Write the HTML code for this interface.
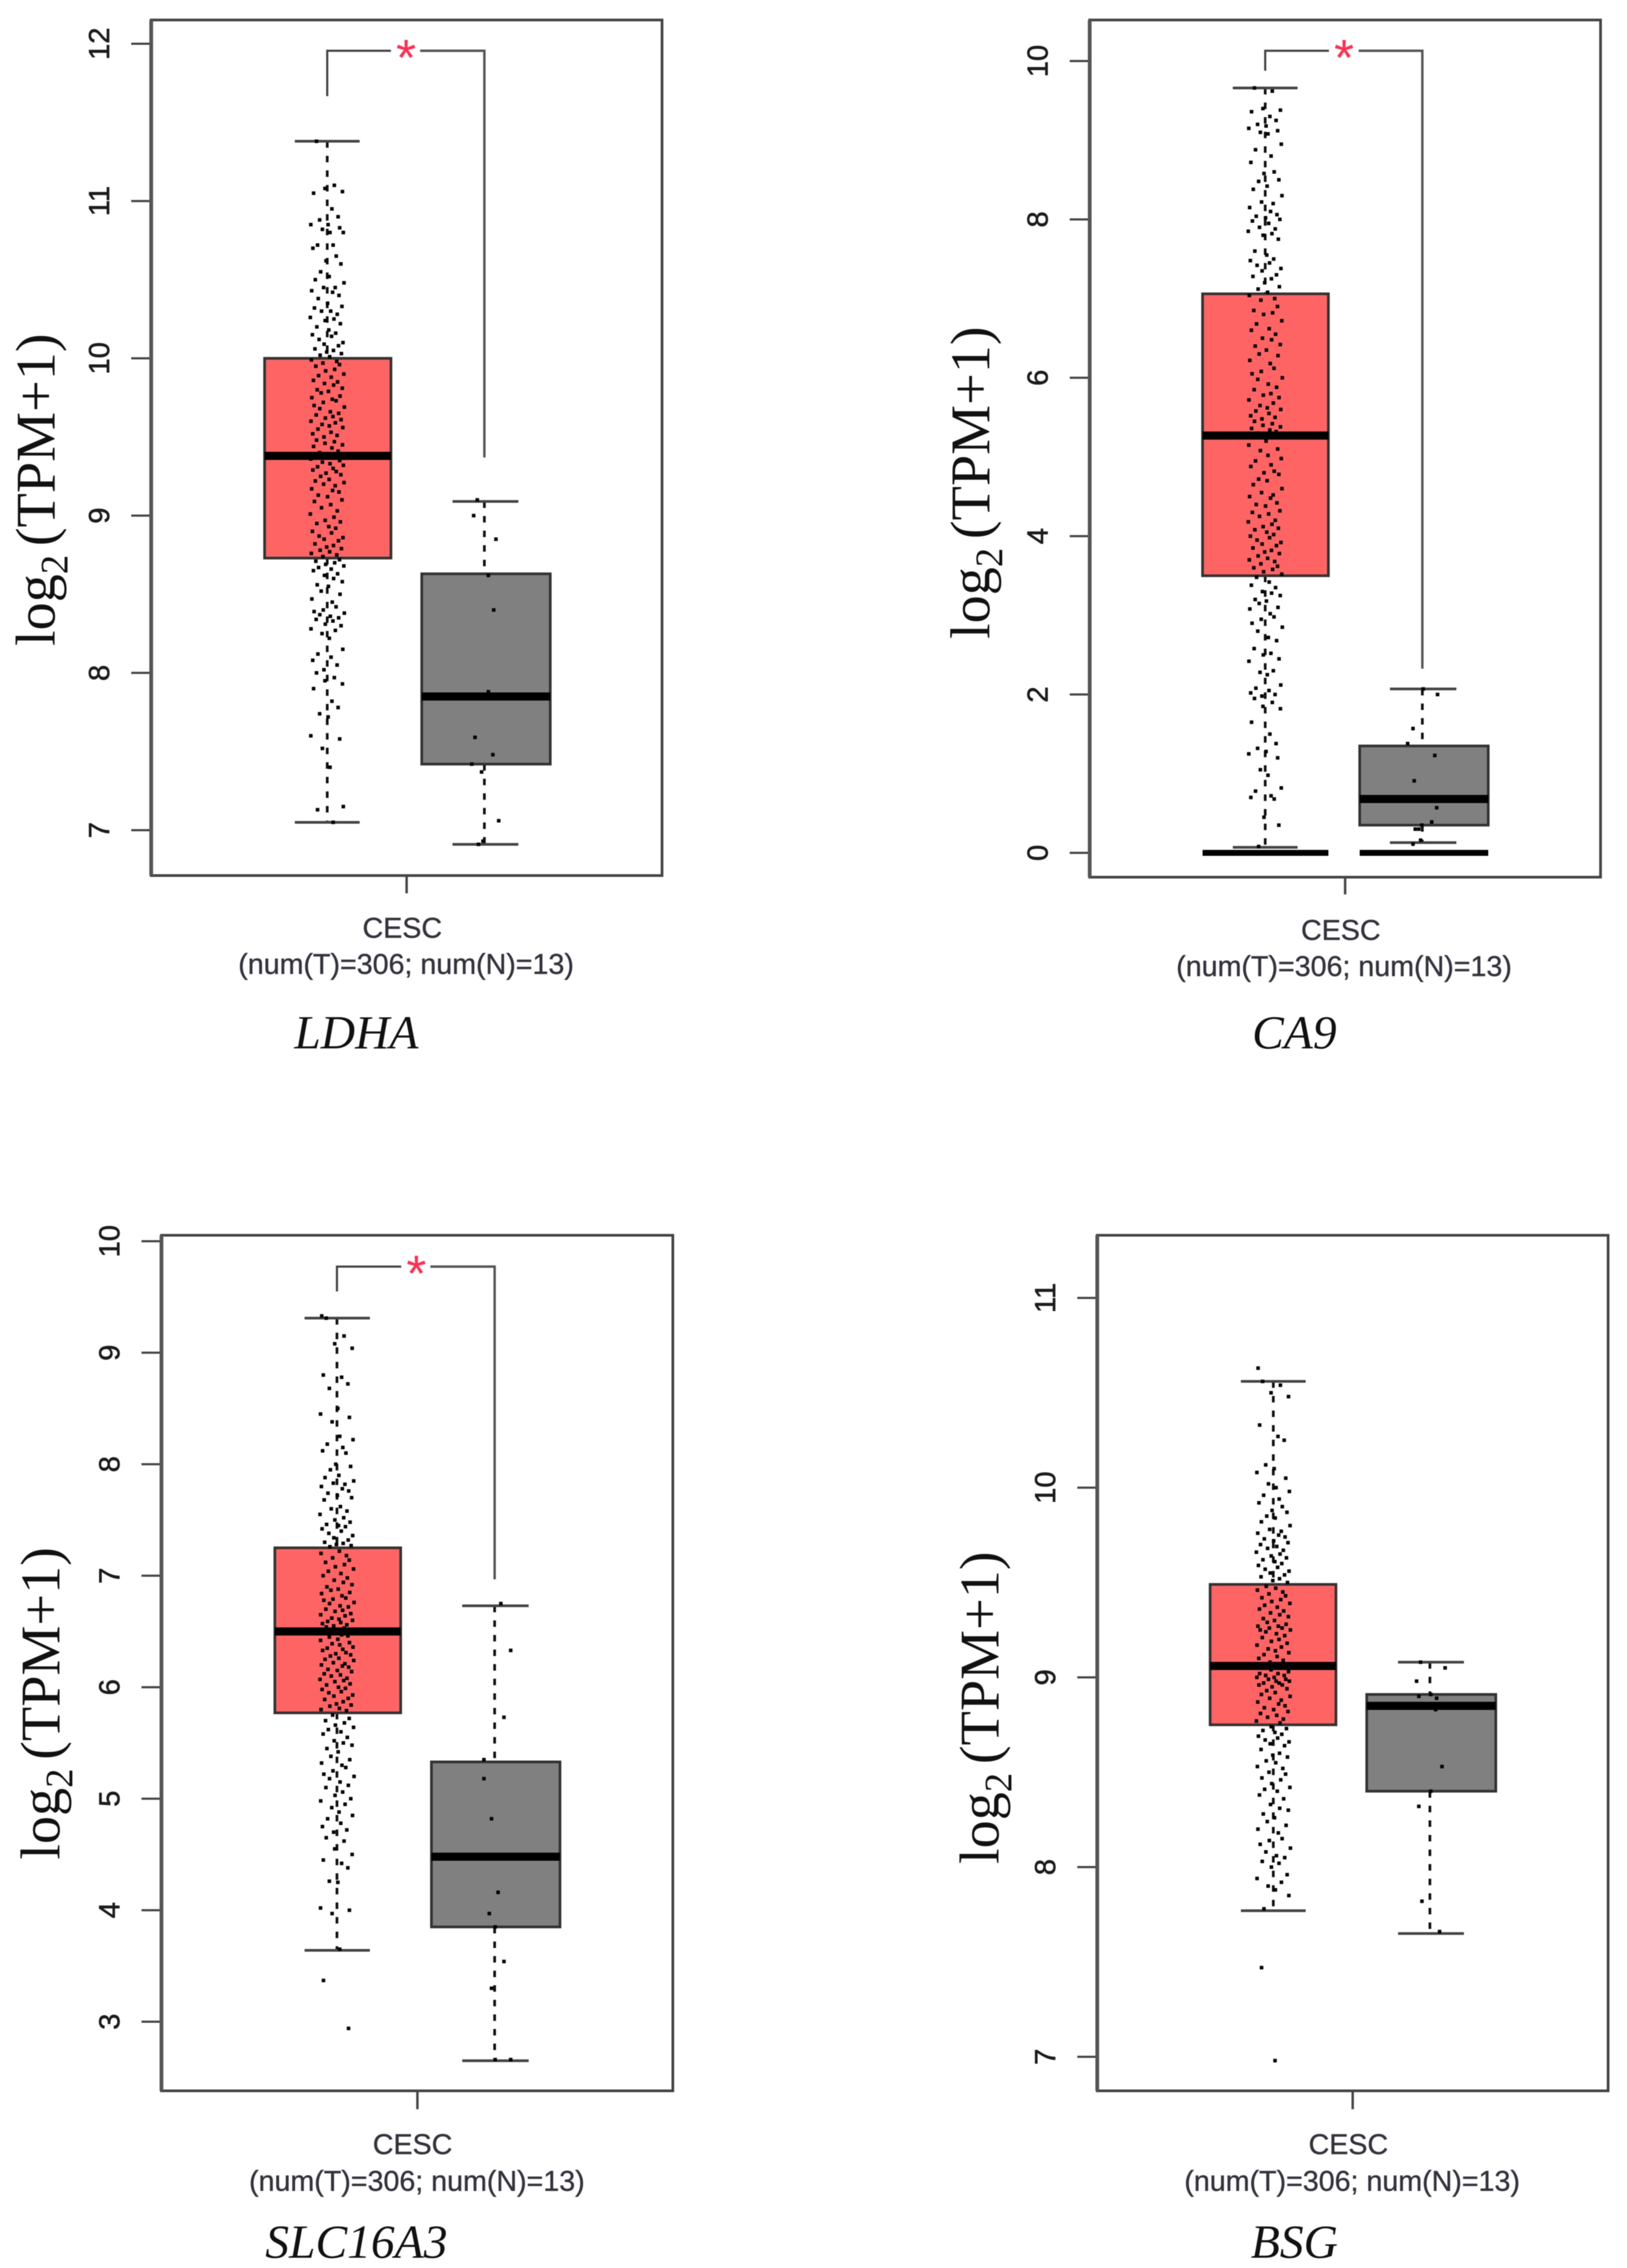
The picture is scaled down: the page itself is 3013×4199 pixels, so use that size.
<!DOCTYPE html>
<html lang="en">
<head>
<meta charset="utf-8">
<title>Expression boxplots for LDHA, CA9, SLC16A3 and BSG in CESC</title>
<style>
html,body{margin:0;padding:0;background:#fff;}
svg{display:block;filter:blur(.8px);}
.tick-text{font-family:"Liberation Sans",sans-serif;font-size:54px;fill:#1c1c1c;stroke:#1c1c1c;stroke-width:1;text-anchor:middle;dominant-baseline:central;}
.axis-cap{font-family:"Liberation Sans",sans-serif;font-size:53px;fill:#34343e;stroke:#34343e;stroke-width:.7;text-anchor:middle;}
.y-title{font-family:"Liberation Serif",serif;font-size:104px;fill:#111;}
.gene{font-family:"Liberation Serif",serif;font-style:italic;font-size:88px;fill:#111;text-anchor:middle;}
.star{font-family:"Liberation Sans",sans-serif;font-size:95px;fill:#ff2f50;text-anchor:middle;}
</style>
</head>
<body>
<svg id="fig" width="3013" height="4199" viewBox="0 0 3013 4199" xmlns="http://www.w3.org/2000/svg">
<rect width="3013" height="4199" fill="#fff"/>

<g id="panel-ldha">
<text class="y-title" transform="translate(101,1196) rotate(-90)">log<tspan font-size="72" dy="24">2</tspan><tspan dy="-24" dx="16">(TPM+1)</tspan></text>
<text class="axis-cap" x="745" y="1736">CESC</text>
<text class="axis-cap" x="752" y="1803">(num(T)=306; num(N)=13)</text>
<text class="gene" x="660" y="1941">LDHA</text>
<text class="star" x="752" y="139">*</text>
</g>

<g id="panel-ca9">
<text class="y-title" transform="translate(1832,1183) rotate(-90)">log<tspan font-size="72" dy="24">2</tspan><tspan dy="-24" dx="16">(TPM+1)</tspan></text>
<text class="axis-cap" x="2483" y="1740">CESC</text>
<text class="axis-cap" x="2489" y="1807">(num(T)=306; num(N)=13)</text>
<text class="gene" x="2397" y="1941">CA9</text>
<text class="star" x="2489" y="139">*</text>
</g>

<g id="panel-slc">
<text class="y-title" transform="translate(110,3443) rotate(-90)">log<tspan font-size="72" dy="24">2</tspan><tspan dy="-24" dx="16">(TPM+1)</tspan></text>
<text class="axis-cap" x="764" y="3988">CESC</text>
<text class="axis-cap" x="772" y="4056">(num(T)=306; num(N)=13)</text>
<text class="gene" x="660" y="4180">SLC16A3</text>
<text class="star" x="771" y="2390">*</text>
</g>

<g id="panel-bsg">
<text class="y-title" transform="translate(1849,3451) rotate(-90)">log<tspan font-size="72" dy="24">2</tspan><tspan dy="-24" dx="16">(TPM+1)</tspan></text>
<text class="axis-cap" x="2497" y="3988">CESC</text>
<text class="axis-cap" x="2504" y="4056">(num(T)=306; num(N)=13)</text>
<text class="gene" x="2397" y="4180">BSG</text>
</g>
</svg>

<script>
/* ---- data ---- */
const ldhaTicks = [7, 8, 9, 10, 11, 12];
const ca9Ticks = [0, 2, 4, 6, 8, 10];
const slcTicks = [3, 4, 5, 6, 7, 8, 9, 10];
const bsgTicks = [7, 8, 9, 10, 11];

/* box stats: whisker-low, q1, median, q3, whisker-high */
const ldhaTumorBox = [7.05, 8.73, 9.38, 10.0, 11.38];
const ldhaNormalBox = [6.91, 7.42, 7.85, 8.63, 9.09];
const ca9TumorBox = [0.07, 3.5, 5.27, 7.06, 9.66];
const ca9NormalBox = [0.13, 0.35, 0.68, 1.35, 2.07];
const slcTumorBox = [3.64, 5.77, 6.5, 7.25, 9.31];
const slcNormalBox = [2.65, 3.85, 4.48, 5.33, 6.73];
const bsgTumorBox = [7.77, 8.75, 9.06, 9.49, 10.56];
const bsgNormalBox = [7.65, 8.4, 8.85, 8.91, 9.08];

/* CA9 has a heavy median-like bar at zero under both boxes */
const ca9ZeroBarValue = 0;

/* horizontal jitter of tumour dots, -1..1 of the jitter band */
const tumorJitter = [-.62,.41,-.13,.88,-.79,.27,.63,-.44,.05,-.95,.72,-.28,.16,.93,-.56,.34,-.83,.52,-.07,.79,-.38,.11,-.69,.97,-.21,.46,-.9,.31,.68,-.52,.02,.85,-.74,.2,-.33,.58,-.98,.39,-.12,.76,-.6,.09,.49,-.86,.25,-.47,.91,-.18,.65,-.71,.36,-.03,.82,-.41,.14,-.92,.55,-.25,.71,-.66,.43,-.09,.96,-.5,.23,-.8,.6,-.16,.37,.87,-.58,.07,-.35,.74,-.89,.29,.51,-.23,-.76,.99,-.43,.18,.66,-.64,.33,-.11,.8,-.94,.47,-.3,.12,.9,-.54,.22,-.84,.57,-.19];

const ldhaTumorValues = [11.38,11.1,11.08,11.06,11.05,10.95,10.9,10.88,10.85,10.85,10.83,10.82,10.8,10.8,10.72,10.72,10.7,10.65,10.62,10.6,10.55,10.52,10.5,10.48,10.45,10.45,10.43,10.42,10.4,10.38,10.35,10.33,10.32,10.3,10.3,10.28,10.26,10.25,10.24,10.22,10.2,10.18,10.16,10.15,10.14,10.12,10.1,10.09,10.08,10.06,10.05,10.04,10.03,10.02,10.01,
9.99,9.98,9.97,9.96,9.95,9.93,9.92,9.9,9.89,9.88,9.86,9.85,9.84,9.83,9.81,9.8,9.79,9.78,9.76,9.75,9.74,9.73,9.72,9.7,9.69,9.68,9.66,9.65,9.64,9.63,9.62,9.61,9.6,9.59,9.58,9.57,9.56,9.55,9.53,9.52,9.51,9.5,9.48,9.47,9.46,9.45,9.44,9.43,9.41,9.4,
9.37,9.36,9.35,9.34,9.33,9.32,9.31,9.3,9.29,9.28,9.27,9.26,9.25,9.23,9.22,9.21,9.2,9.19,9.17,9.16,9.15,9.13,9.12,9.1,9.09,9.07,9.05,9.03,9.01,8.99,8.97,8.96,8.95,8.93,8.92,8.9,8.89,8.87,8.86,8.85,8.84,8.82,8.81,8.8,8.79,8.78,8.77,8.76,8.75,8.74,
8.72,8.71,8.7,8.69,8.68,8.67,8.66,8.65,8.63,8.62,8.6,8.58,8.56,8.55,8.52,8.5,8.47,8.45,8.42,8.4,8.39,8.38,8.37,8.36,8.35,8.34,8.33,8.31,8.3,8.28,8.27,8.25,8.22,8.15,8.12,8.1,8.08,8.05,8.02,8,7.97,7.95,7.93,7.9,7.82,7.78,7.74,7.72,7.6,7.58,7.52,7.4,7.15,7.13,7.05];

const ca9TumorValues = [9.66,9.62,9.4,9.38,9.36,9.3,9.25,9.2,9.18,9.15,9.12,9.1,9.08,8.95,8.88,8.8,8.72,8.6,8.58,8.5,8.48,8.42,8.38,8.3,8.22,8.2,8.15,8.1,8.06,8.04,8.02,8,7.98,7.95,7.9,7.88,7.85,7.82,7.8,7.75,7.6,7.55,7.5,7.48,7.45,7.42,7.38,7.35,7.3,7.28,7.25,7.2,7.15,7.12,7.08,
7.04,7,6.98,6.9,6.85,6.82,6.8,6.72,6.68,6.62,6.6,6.55,6.5,6.48,6.42,6.4,6.35,6.3,6.28,6.22,6.18,6.12,6.08,6.05,6,5.98,5.92,5.88,5.85,5.8,5.78,5.75,5.72,5.68,5.65,5.62,5.6,5.58,5.55,5.52,5.5,5.48,5.45,5.42,5.4,5.38,5.36,5.34,5.32,5.3,
5.2,5.15,5.1,5.08,5.02,4.98,4.95,4.9,4.88,4.82,4.8,4.78,4.72,4.7,4.65,4.6,4.55,4.52,4.5,4.48,4.42,4.4,4.38,4.32,4.3,4.28,4.25,4.2,4.18,4.15,4.12,4.1,4.08,4.05,4.02,4,3.98,3.95,3.92,3.9,3.88,3.85,3.82,3.8,3.78,3.75,3.72,3.7,3.68,3.65,3.62,3.6,3.58,3.55,3.52,
3.48,3.42,3.38,3.35,3.3,3.28,3.25,3.2,3.18,3.15,3.1,3.08,3.02,2.98,2.95,2.9,2.85,2.8,2.72,2.68,2.58,2.52,2.5,2.45,2.42,2.3,2.28,2.25,2.12,2.08,2.05,2.02,2,1.98,1.95,1.9,1.85,1.82,1.65,1.5,1.38,1.32,1.28,1.25,1.2,1.05,.98,.82,.78,.72,.7,.68,.45,.35,.08];

const slcTumorValues = [9.31,9.15,9.08,9.04,8.8,8.78,8.72,8.68,8.5,8.45,8.42,8.38,8.25,8.22,8.18,8.15,8.12,8.1,8,7.98,7.95,7.9,7.88,7.85,7.83,7.82,7.8,7.78,7.76,7.74,7.72,7.7,7.68,7.62,7.6,7.58,7.55,7.52,7.5,7.48,7.46,7.45,7.44,7.42,7.4,7.38,7.36,7.34,7.32,7.3,7.29,7.28,7.27,7.26,
7.22,7.2,7.18,7.16,7.14,7.12,7.1,7.08,7.06,7.04,7.02,7,6.98,6.96,6.94,6.92,6.9,6.88,6.87,6.85,6.84,6.82,6.8,6.79,6.78,6.76,6.75,6.73,6.72,6.7,6.69,6.68,6.66,6.65,6.64,6.62,6.61,6.6,6.59,6.58,6.57,6.56,6.55,6.54,6.53,6.52,
6.49,6.48,6.47,6.46,6.45,6.43,6.42,6.4,6.39,6.38,6.36,6.35,6.34,6.33,6.31,6.3,6.29,6.28,6.26,6.25,6.24,6.22,6.21,6.2,6.19,6.18,6.16,6.15,6.14,6.12,6.11,6.1,6.08,6.07,6.06,6.05,6.03,6.02,6,5.99,5.98,5.96,5.95,5.93,5.92,5.9,5.89,5.87,5.85,5.84,5.83,5.81,5.8,5.79,
5.75,5.72,5.7,5.68,5.66,5.64,5.62,5.6,5.58,5.55,5.52,5.5,5.48,5.45,5.42,5.38,5.35,5.32,5.3,5.28,5.25,5.22,5.2,5.18,5.15,5.12,5.1,5.06,5.03,5,4.98,4.95,4.92,4.88,4.85,4.82,4.78,4.75,4.72,4.7,4.65,4.62,4.55,4.5,4.45,4.42,4.38,4.26,4.25,4.02,4,3.97,3.65];
const slcTumorOutlierValues = [9.33, 3.37, 2.94];
const slcTumorOutlierJitter = [-.88, -.78, .67];

const bsgTumorValues = [10.56,10.54,10.5,10.48,10.33,10.27,10.25,10.12,10.1,10.08,10.05,10.02,10,9.98,9.96,9.94,9.92,9.9,9.88,9.87,9.85,9.84,9.82,9.8,9.78,9.77,9.76,9.75,9.74,9.73,9.72,9.71,9.7,9.69,9.68,9.67,9.66,9.65,9.64,9.63,9.62,9.61,9.6,9.59,9.58,9.57,9.56,9.55,9.54,9.53,9.52,9.51,9.5,
9.48,9.47,9.46,9.45,9.44,9.43,9.42,9.41,9.4,9.39,9.38,9.37,9.36,9.35,9.34,9.33,9.32,9.31,9.3,9.29,9.28,9.27,9.27,9.26,9.26,9.25,9.25,9.24,9.23,9.22,9.21,9.2,9.19,9.18,9.17,9.16,9.15,9.14,9.13,9.12,9.11,9.1,9.09,9.08,9.07,
9.05,9.04,9.03,9.02,9.02,9.01,9.01,9,9,8.99,8.99,8.98,8.98,8.97,8.97,8.96,8.96,8.95,8.94,8.93,8.92,8.91,8.9,8.89,8.88,8.87,8.86,8.85,8.84,8.83,8.82,8.81,8.8,8.79,8.78,8.77,8.76,
8.74,8.73,8.72,8.71,8.7,8.69,8.68,8.67,8.66,8.65,8.64,8.62,8.6,8.59,8.58,8.56,8.55,8.53,8.52,8.5,8.49,8.47,8.46,8.44,8.42,8.41,8.4,8.38,8.36,8.33,8.31,8.3,8.28,8.26,8.24,8.22,8.2,8.18,8.15,8.14,8.12,8.1,8.08,8.06,8.05,8.03,8.02,8,7.96,7.94,7.92,7.9,7.88,7.85,7.78];
const bsgTumorOutlierValues = [10.63, 7.47, 6.98];
const bsgTumorOutlierJitter = [-.88, -.68, .1];

const ldhaNormalValues = [9.10,9.0,8.85,8.62,8.40,7.88,7.59,7.48,7.42,7.37,7.06,6.93,6.91];
const ldhaNormalJitter = [-.41,-.62,.67,.23,.54,.23,-.54,.49,-.73,-.16,.83,-.08,-.34];
const ca9NormalValues = [2.07,2.0,1.57,1.38,1.23,.91,.57,.39,.35,.30,.30,.16,.11];
const ca9NormalJitter = [.05,.88,-.54,-.85,.72,-.47,.83,.54,-.03,-.41,-.2,-.1,-.54];
const slcNormalValues = [6.75,6.33,5.73,5.35,5.18,4.82,4.16,3.97,3.85,3.54,3.30,2.66,2.66];
const slcNormalJitter = [.36,.93,.54,-.62,-.62,-.18,.2,-.31,.03,.54,-.18,.03,.93];
const bsgNormalValues = [9.08,9.05,8.98,8.90,8.91,8.89,8.85,8.83,8.53,8.40,8.32,7.82,7.66];
const bsgNormalJitter = [-.54,.88,-.77,-.64,.05,.39,.39,.33,.7,.05,-.64,-.46,.56];

const SVGNS = 'http://www.w3.org/2000/svg';

/* ---- layout of each panel (pixels, not data) ---- */
const layoutLdha = {id:'panel-ldha', frame:[280,37,1226,1621], axis:[7,1537,12,81], labelX:184, tickX:243,
  tumor:{l:490,r:724,c:606,capL:546,capR:666}, normal:{l:781,r:1019,c:897,capL:838,capR:960},
  xTick:[753,1654], bracket:{top:94,leftEnd:178,rightEnd:847,gapL:724,gapR:778}};
const layoutCa9 = {id:'panel-ca9', frame:[2018,37,2964,1624], axis:[0,1579,10,113], labelX:1922, tickX:1981,
  tumor:{l:2227,r:2460,c:2343,capL:2283,capR:2403}, normal:{l:2518,r:2756,c:2634,capL:2574,capR:2697},
  xTick:[2491,1656], bracket:{top:94,leftEnd:131,rightEnd:1238,gapL:2461,gapR:2516}};
const layoutSlc = {id:'panel-slc', frame:[299,2287,1246,3871], axis:[3,3743,10,2298], labelX:203, tickX:262,
  tumor:{l:509,r:742,c:624,capL:564,capR:685}, normal:{l:799,r:1037,c:916,capL:856,capR:979},
  xTick:[773,3905], bracket:{top:2345,leftEnd:2391,rightEnd:2924,gapL:743,gapR:797}};
const layoutBsg = {id:'panel-bsg', frame:[2032,2287,2978,3871], axis:[7,3808,11,2403], labelX:1936, tickX:1995,
  tumor:{l:2241,r:2474,c:2358,capL:2298,capR:2418}, normal:{l:2531,r:2770,c:2648,capL:2589,capR:2711},
  xTick:[2505,3905], bracket:null};

function axisY(layout, v){
  const a = layout.axis;
  return a[1] + (v - a[0]) * (a[3] - a[1]) / (a[2] - a[0]);
}
function jitterX(center, j){ return center + j * 32; }

function mk(parent, tag, props, name){
  const el = document.createElementNS(SVGNS, tag);
  for (const k in props) el.setAttribute(k, props[k]);
  
  
  parent.appendChild(el);
  return el;
}
function seg(parent, x1, y1, x2, y2, stroke, w, name, extra){
  return mk(parent, 'line', Object.assign({x1, y1, x2, y2, stroke, 'stroke-width': w}, extra || {}), name);
}

function drawBox(g, layout, pos, stats, fill, label){
  const yOf = v => axisY(layout, v);
  const [lo, q1, med, q3, hi] = stats;
  const dash = {'stroke-dasharray': '12 15'};
  seg(g, pos.c, yOf(hi), pos.c, yOf(q3), '#111', 5, label + '-upper-whisker', dash);
  seg(g, pos.c, yOf(q1), pos.c, yOf(lo), '#111', 5, label + '-lower-whisker', dash);
  seg(g, pos.capL, yOf(hi), pos.capR, yOf(hi), '#444', 5, label + '-upper-cap');
  seg(g, pos.capL, yOf(lo), pos.capR, yOf(lo), '#444', 5, label + '-lower-cap');
  mk(g, 'rect', {x: pos.l, y: yOf(q3), width: pos.r - pos.l, height: yOf(q1) - yOf(q3), fill: fill, stroke: '#333', 'stroke-width': 5}, label + '-box');
  seg(g, pos.l, yOf(med), pos.r, yOf(med), '#000', 15, label + '-median');
}

function drawDots(g, layout, center, values, jitter, label){
  values.forEach(function(v, i){
    const c = mk(g, 'rect', {
      x: jitterX(center, jitter[i % jitter.length]) - 3.3,
      y: axisY(layout, v) - 3.3,
      width: 6.6, height: 6.6, fill: '#000'
    }, label + '-point');
  });
}

function drawPanel(layout, tickValues, tumorBox, normalBox, tumorValues, normalValues, normalJit, outVals, outJit, zeroBar){
  const g = document.getElementById(layout.id);
  const f = layout.frame;
  const marks = mk(g, 'g', {}, 'plot-area');

  tickValues.forEach(function(v){
    const y = axisY(layout, v);
    seg(marks, layout.tickX, y, f[0], y, '#444', 4, 'y-tick');
    const t = mk(marks, 'text', {x: layout.labelX, y: y, 'class': 'tick-text', transform: 'rotate(-90 ' + layout.labelX + ' ' + y + ')'}, 'y-tick-label');
    t.textContent = String(v);
  });

  drawBox(marks, layout, layout.tumor, tumorBox, '#ff6464', 'tumor');
  drawBox(marks, layout, layout.normal, normalBox, '#808080', 'normal');

  if (zeroBar !== null){
    const zy = axisY(layout, zeroBar);
    seg(marks, layout.tumor.l, zy, layout.tumor.r, zy, '#000', 11, 'tumor-zero-bar');
    seg(marks, layout.normal.l, zy, layout.normal.r, zy, '#000', 11, 'normal-zero-bar');
  }

  drawDots(marks, layout, layout.tumor.c, tumorValues, tumorJitter, 'tumor');
  if (outVals) drawDots(marks, layout, layout.tumor.c, outVals, outJit, 'tumor-outlier');
  drawDots(marks, layout, layout.normal.c, normalValues, normalJit, 'normal');

  mk(marks, 'rect', {x: f[0], y: f[1], width: f[2] - f[0], height: f[3] - f[1], fill: 'none', stroke: '#444', 'stroke-width': 5}, 'plot-frame');
  seg(marks, f[0], f[1], f[0], f[3], '#555', 7, 'plot-frame-left-edge');
  seg(marks, layout.xTick[0], f[3], layout.xTick[0], layout.xTick[1], '#444', 4.5, 'x-tick');

  if (layout.bracket){
    const b = layout.bracket;
    const xl = layout.tumor.c, xr = layout.normal.c;
    mk(marks, 'polyline', {points: xl + ',' + b.leftEnd + ' ' + xl + ',' + b.top + ' ' + b.gapL + ',' + b.top, fill: 'none', stroke: '#444', 'stroke-width': 4}, 'significance-bracket-left');
    mk(marks, 'polyline', {points: b.gapR + ',' + b.top + ' ' + xr + ',' + b.top + ' ' + xr + ',' + b.rightEnd, fill: 'none', stroke: '#555', 'stroke-width': 4.5}, 'significance-bracket-right');
  }
}

drawPanel(layoutLdha, ldhaTicks, ldhaTumorBox, ldhaNormalBox, ldhaTumorValues, ldhaNormalValues, ldhaNormalJitter, null, null, null);
drawPanel(layoutCa9, ca9Ticks, ca9TumorBox, ca9NormalBox, ca9TumorValues, ca9NormalValues, ca9NormalJitter, null, null, ca9ZeroBarValue);
drawPanel(layoutSlc, slcTicks, slcTumorBox, slcNormalBox, slcTumorValues, slcNormalValues, slcNormalJitter, slcTumorOutlierValues, slcTumorOutlierJitter, null);
drawPanel(layoutBsg, bsgTicks, bsgTumorBox, bsgNormalBox, bsgTumorValues, bsgNormalValues, bsgNormalJitter, bsgTumorOutlierValues, bsgTumorOutlierJitter, null);
</script>
</body>
</html>
